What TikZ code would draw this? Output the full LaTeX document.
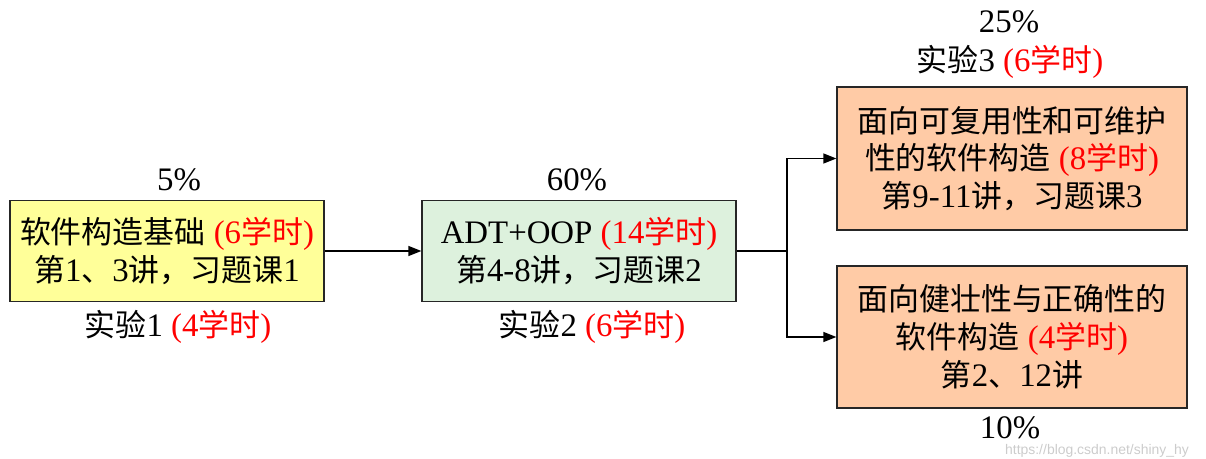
\documentclass[tikz,border=0pt]{standalone}
\usepackage{fontspec}
\setmainfont[Scale=1.03]{Liberation Serif}
\newfontfamily\cjk[Scale=0.97]{Noto Sans CJK SC}
\newfontfamily\wmfont{Liberation Sans}
\usetikzlibrary{arrows.meta}
\definecolor{boxyellow}{HTML}{FFFF99}
\definecolor{boxgreen}{HTML}{DDF1DD}
\definecolor{boxpeach}{HTML}{FFCBA6}
\definecolor{hred}{HTML}{FF0000}
\newcommand{\hs}[1]{\textcolor{hred}{#1}}
\newcommand{\zh}[1]{{\cjk #1}}
\begin{document}
\begin{tikzpicture}[x=1bp,y=-1bp,
  stagebox/.style={draw=black!85, line width=1.3bp, align=center, inner sep=0pt,
    font=\fontsize{32}{38}\selectfont},
  lbl/.style={inner sep=0pt, align=center, font=\fontsize{32}{38}\selectfont},
  link/.style={line width=1.3bp},
  conn/.style={link, -{Triangle[length=13bp,width=10bp]}}]
\useasboundingbox (0,0) rectangle (1206,459);
\node[stagebox, fill=boxyellow, minimum width=314bp, minimum height=101bp] (b1) at (167,251)
  {\zh{软件构造基础} \hs{(6\zh{学时})}\\\zh{第}1\zh{、}3\zh{讲，习题课}1};
\node[stagebox, fill=boxgreen, minimum width=314bp, minimum height=101bp] (b2) at (579,251)
  {ADT+OOP \hs{(14\zh{学时})}\\\zh{第}4-8\zh{讲，习题课}2};
\node[stagebox, fill=boxpeach, minimum width=350bp, minimum height=143bp] (b3) at (1012,158.5)
  {\zh{面向可复用性和可维护}\\\zh{性的软件构造} \hs{(8\zh{学时})}\\\zh{第}9-11\zh{讲，习题课}3};
\node[stagebox, fill=boxpeach, minimum width=350bp, minimum height=142bp] (b4) at (1012,337)
  {\zh{面向健壮性与正确性的}\\\zh{软件构造} \hs{(4\zh{学时})}\\\zh{第}2\zh{、}12\zh{讲}};
\node[lbl] (p1) at (179,180) {5\%};
\node[lbl] (e1) at (178,327) {\zh{实验}1 \hs{(4\zh{学时})}};
\node[lbl] (p2) at (577,180) {60\%};
\node[lbl] (e2) at (592,327) {\zh{实验}2 \hs{(6\zh{学时})}};
\node[lbl] (p3) at (1009,22) {25\%};
\node[lbl] (e3) at (1010,62) {\zh{实验}3 \hs{(6\zh{学时})}};
\node[lbl] (p4) at (1010,428) {10\%};
\node[inner sep=0pt, font=\wmfont\fontsize{14}{14}\selectfont, text=gray!40] (wm) at (1097,451) {https://blog.csdn.net/shiny\_hy};
\coordinate (split) at (787,251);
\draw[conn] (b1.east) -- (b2.west);
\draw[link] (b2.east) -- (split);
\draw[conn] (split) |- (b3.west);
\draw[conn] (split) |- (b4.west);
\end{tikzpicture}
\end{document}
